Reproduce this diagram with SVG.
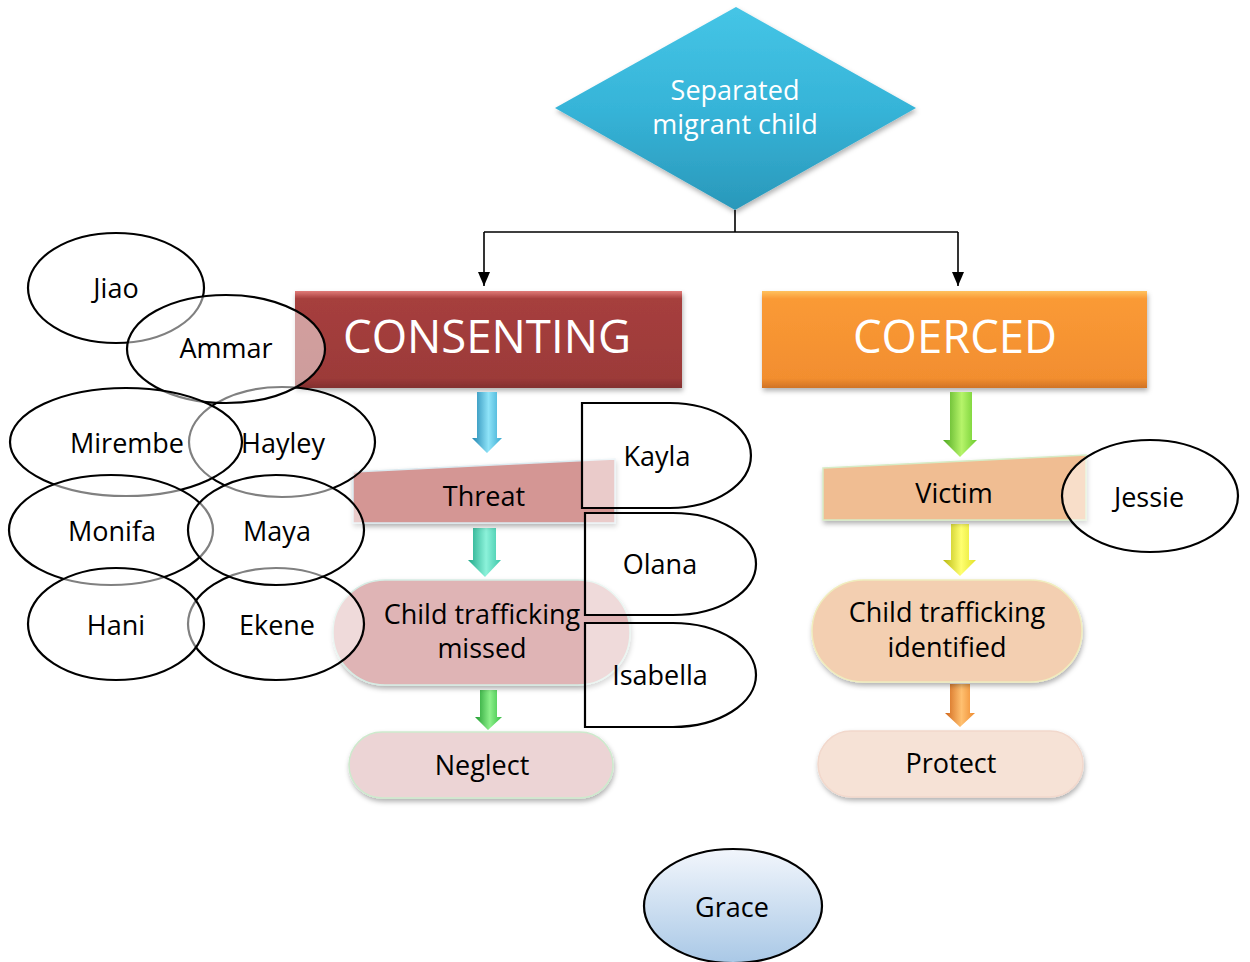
<svg xmlns="http://www.w3.org/2000/svg" width="1250" height="962" viewBox="0 0 1250 962">
<defs>
<style>
.t{font-family:"Open Sans","Liberation Sans",sans-serif;font-size:27px;fill:#000;text-anchor:middle}
.w{fill:#fff}
.el{fill:#fff;fill-opacity:0.5;stroke:#000;stroke-width:2.2}
.conn{fill:none;stroke:#000;stroke-width:1.6}
</style>
<filter id="sh" x="-10%" y="-10%" width="120%" height="130%">
<feDropShadow dx="1" dy="3" stdDeviation="2.5" flood-color="#000" flood-opacity="0.3"/>
</filter>
<marker id="ah" viewBox="0 0 14 12" refX="14" refY="6" markerWidth="14" markerHeight="12" markerUnits="userSpaceOnUse" orient="auto">
<path d="M0,0 L14,6 L0,12 z" fill="#000"/>
</marker>
<linearGradient id="gDia" x1="0" y1="0" x2="0" y2="1">
<stop offset="0" stop-color="#45C5E6"/><stop offset="0.5" stop-color="#36B4D8"/><stop offset="1" stop-color="#2A98BA"/>
</linearGradient>
<linearGradient id="gCons" x1="0" y1="0" x2="0" y2="1">
<stop offset="0" stop-color="#E07A78"/><stop offset="0.08" stop-color="#A63F3D"/><stop offset="0.9" stop-color="#9C3A39"/><stop offset="1" stop-color="#823030"/>
</linearGradient>
<linearGradient id="gCoer" x1="0" y1="0" x2="0" y2="1">
<stop offset="0" stop-color="#FFC15E"/><stop offset="0.08" stop-color="#FA9A36"/><stop offset="0.9" stop-color="#F28E2F"/><stop offset="1" stop-color="#D07326"/>
</linearGradient>
<linearGradient id="gGrace" x1="0" y1="0" x2="0" y2="1">
<stop offset="0" stop-color="#F2F6FC"/><stop offset="1" stop-color="#A9C8E6"/>
</linearGradient>
<linearGradient id="aBlue" x1="0" y1="0" x2="1" y2="0">
<stop offset="0" stop-color="#1F84B0"/><stop offset="0.55" stop-color="#8EE3F8"/><stop offset="1" stop-color="#3AA9D0"/>
</linearGradient>
<linearGradient id="aTeal" x1="0" y1="0" x2="1" y2="0">
<stop offset="0" stop-color="#1EA888"/><stop offset="0.55" stop-color="#8CF2DA"/><stop offset="1" stop-color="#3CC6A8"/>
</linearGradient>
<linearGradient id="aGreen" x1="0" y1="0" x2="1" y2="0">
<stop offset="0" stop-color="#1E9A2E"/><stop offset="0.55" stop-color="#8CF08A"/><stop offset="1" stop-color="#38BE44"/>
</linearGradient>
<linearGradient id="aLime" x1="0" y1="0" x2="1" y2="0">
<stop offset="0" stop-color="#4EA820"/><stop offset="0.55" stop-color="#B6F46A"/><stop offset="1" stop-color="#6CCB2E"/>
</linearGradient>
<linearGradient id="aYel" x1="0" y1="0" x2="1" y2="0">
<stop offset="0" stop-color="#B8B810"/><stop offset="0.55" stop-color="#FFFF70"/><stop offset="1" stop-color="#E2E22A"/>
</linearGradient>
<linearGradient id="aOr" x1="0" y1="0" x2="1" y2="0">
<stop offset="0" stop-color="#D0661A"/><stop offset="0.55" stop-color="#FFC070"/><stop offset="1" stop-color="#EE8A2E"/>
</linearGradient>
</defs>
<rect width="1250" height="962" fill="#fff"/>

<g id="connectors">
<path class="conn" d="M735,210 V232 M484,232 H958"/>
<path class="conn" d="M484,232 V286" marker-end="url(#ah)"/>
<path class="conn" d="M958,232 V286" marker-end="url(#ah)"/>
</g>

<g id="separated-migrant-child">
<polygon points="736,7 916,108 735,210 555,108" fill="url(#gDia)" filter="url(#sh)"/>
<text class="t w" x="735" y="100">Separated</text>
<text class="t w" x="735" y="134">migrant child</text>
</g>

<g id="consenting">
<rect x="295" y="291" width="387" height="97" fill="url(#gCons)" filter="url(#sh)"/>
<text class="w" x="487" y="353" font-family="'Open Sans','Liberation Sans',sans-serif" font-size="46" text-anchor="middle" textLength="288" lengthAdjust="spacingAndGlyphs">CONSENTING</text>
</g>

<g id="coerced">
<rect x="762" y="291" width="385" height="97" fill="url(#gCoer)" filter="url(#sh)"/>
<text class="w" x="955" y="353" font-family="'Open Sans','Liberation Sans',sans-serif" font-size="46" text-anchor="middle" textLength="204" lengthAdjust="spacingAndGlyphs">COERCED</text>
</g>

<g id="arrows">
<polygon points="477,392 497,392 497,438 502,438 487,453 472,438 477,438" fill="url(#aBlue)"/>
<polygon points="473,528 496,528 496,560 501,560 485,577 468,560 473,560" fill="url(#aTeal)"/>
<polygon points="480,690 497,690 497,717 502,717 488,730 475,717 480,717" fill="url(#aGreen)"/>
<polygon points="950,392 972,392 972,440 977,440 960,457 943,440 950,440" fill="url(#aLime)"/>
<polygon points="951,524 969,524 969,560 976,560 960,576 943,560 951,560" fill="url(#aYel)"/>
<polygon points="950,684 970,684 970,713 975,713 960,727 945,713 950,713" fill="url(#aOr)"/>
</g>

<g id="threat">
<polygon points="353,472 615,459 615,523 353,523" fill="#D49694" stroke="#DCEAF0" stroke-width="1.5" filter="url(#sh)"/>
<text class="t" x="484" y="506">Threat</text>
</g>

<g id="child-trafficking-missed">
<rect x="333" y="580" width="297" height="105" rx="52" fill="#DFB4B5" stroke="#D6ECE4" stroke-width="1.5" filter="url(#sh)"/>
<text class="t" x="482" y="624">Child trafficking</text>
<text class="t" x="482" y="658">missed</text>
</g>

<g id="neglect">
<rect x="349" y="732" width="264" height="66" rx="33" fill="#ECD4D5" stroke="#CDEACD" stroke-width="1.5" filter="url(#sh)"/>
<text class="t" x="482" y="775">Neglect</text>
</g>

<g id="victim">
<polygon points="823,468 1086,455 1086,520 823,520" fill="#F0BD92" stroke="#D6ECC6" stroke-width="1.5" filter="url(#sh)"/>
<text class="t" x="954" y="503">Victim</text>
</g>

<g id="child-trafficking-identified">
<rect x="812" y="580" width="270" height="102" rx="51" fill="#F3CFB1" stroke="#F0EDBE" stroke-width="1.5" filter="url(#sh)"/>
<text class="t" x="947" y="622">Child trafficking</text>
<text class="t" x="947" y="657">identified</text>
</g>

<g id="protect">
<rect x="818" y="731" width="265" height="66" rx="33" fill="#F6E2D6" stroke="#F2D8CC" stroke-width="1.5" filter="url(#sh)"/>
<text class="t" x="951" y="773">Protect</text>
</g>

<g id="kayla">
<path class="el" d="M582,403 H670 A81,52.5 0 0 1 670,508 H582 Z"/>
<text class="t" x="657" y="466">Kayla</text>
</g>
<g id="olana">
<path class="el" d="M585,513 H673 A83,51 0 0 1 673,615 H585 Z"/>
<text class="t" x="660" y="574">Olana</text>
</g>
<g id="isabella">
<path class="el" d="M585,623 H673 A83,52 0 0 1 673,727 H585 Z"/>
<text class="t" x="660" y="685">Isabella</text>
</g>

<g id="jiao">
<ellipse class="el" cx="116" cy="288" rx="88" ry="55"/>
<text class="t" x="116" y="298">Jiao</text>
</g>
<g id="hayley">
<ellipse class="el" cx="282" cy="442" rx="93" ry="55"/>
<text class="t" x="283" y="453">Hayley</text>
</g>
<g id="ammar">
<ellipse class="el" cx="226" cy="349" rx="99" ry="54"/>
<text class="t" x="226" y="358">Ammar</text>
</g>
<g id="mirembe">
<ellipse class="el" cx="126" cy="442" rx="116" ry="54"/>
<text class="t" x="127" y="453">Mirembe</text>
</g>
<g id="monifa">
<ellipse class="el" cx="111" cy="530" rx="102" ry="55"/>
<text class="t" x="112" y="541">Monifa</text>
</g>
<g id="ekene">
<ellipse class="el" cx="276" cy="624" rx="88" ry="56"/>
<text class="t" x="277" y="635">Ekene</text>
</g>
<g id="maya">
<ellipse class="el" cx="276" cy="530" rx="88" ry="55"/>
<text class="t" x="277" y="541">Maya</text>
</g>
<g id="hani">
<ellipse class="el" cx="116" cy="624" rx="88" ry="56"/>
<text class="t" x="116" y="635">Hani</text>
</g>
<g id="jessie">
<ellipse class="el" cx="1150" cy="496" rx="88" ry="56"/>
<text class="t" x="1149" y="507">Jessie</text>
</g>

<g id="grace">
<ellipse cx="733" cy="906" rx="89" ry="57" fill="url(#gGrace)" stroke="#000" stroke-width="2.2"/>
<text class="t" x="732" y="917">Grace</text>
</g>
</svg>
